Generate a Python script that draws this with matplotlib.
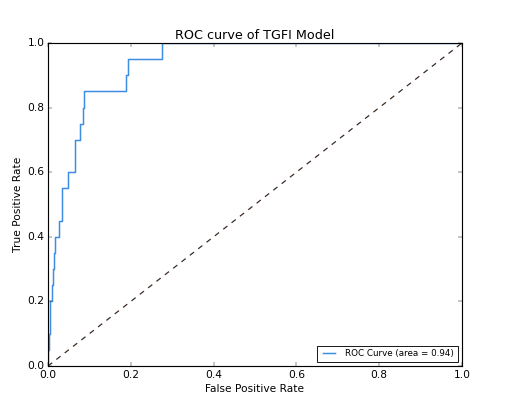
import matplotlib
matplotlib.use('Agg')
import matplotlib.pyplot as plt

# ROC points
fpr = [0.0, 0.0, 0.002, 0.002, 0.005, 0.005, 0.009, 0.009, 0.011, 0.011,
       0.015, 0.015, 0.018, 0.018, 0.027, 0.027, 0.035, 0.035, 0.049, 0.049,
       0.065, 0.065, 0.077, 0.077, 0.085, 0.085, 0.088, 0.088, 0.188, 0.188,
       0.194, 0.194, 0.275, 0.275, 1.0]
tpr = [0.0, 0.05, 0.05, 0.10, 0.10, 0.20, 0.20, 0.25, 0.25, 0.30,
       0.30, 0.35, 0.35, 0.40, 0.40, 0.45, 0.45, 0.55, 0.55, 0.60,
       0.60, 0.70, 0.70, 0.75, 0.75, 0.80, 0.80, 0.85, 0.85, 0.90,
       0.90, 0.95, 0.95, 1.0, 1.0]
roc_auc = 0.94

plt.style.use('classic')
plt.rcParams['axes.linewidth'] = 1.3
fig = plt.figure(figsize=(8, 398 / 63.5), dpi=63.5, facecolor='white')
ax = fig.add_axes([48 / 508, 32 / 398, 414 / 508, 323 / 398])

ax.plot(fpr, tpr, color='#3d8ee0', lw=1.7, label='ROC Curve (area = %0.2f)' % roc_auc)
ax.plot([0, 1], [0, 1], '--', color='#3a2a22', lw=1.4)
ax.set_xlim([0.0, 1.0])
ax.set_ylim([0.0, 1.0])
ax.set_xlabel('False Positive Rate')
ax.set_ylabel('True Positive Rate')
ax.set_title('ROC curve of TGFI Model')
ax.legend(loc='lower right', fontsize='small')

fig.savefig('out.png', dpi=63.5, facecolor='white')
